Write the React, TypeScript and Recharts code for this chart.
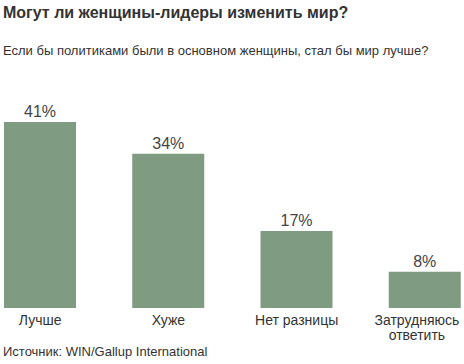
import React from 'react';
import { BarChart, Bar, XAxis, YAxis, LabelList } from 'recharts';

const categories = ['Лучше', 'Хуже', 'Нет разницы', 'Затрудняюсь\nответить'];
const shares = [41, 34, 17, 8];

const data = categories.map((name, i) => ({ name, value: shares[i] }));

const FONT = '"Liberation Sans", Arial, sans-serif';

// the two-line label sits a bit left of its bar in the original, so it stays inside the frame
const CategoryTick: React.FC<any> = ({ x, y, payload }) => {
  const lines = String(payload.value).split('\n');
  const cx = lines.length > 1 ? x - 8 : x;
  return (
    <text x={cx} y={y + 9} textAnchor="middle" fill="#333" fontSize={14} fontFamily={FONT}>
      {lines.map((line, i) => (
        <tspan key={i} x={cx} dy={i === 0 ? 0 : 14.5}>
          {line}
        </tspan>
      ))}
    </text>
  );
};

const App: React.FC = () => {
  return (
    <div style={{ position: 'fixed', left: 0, top: 0, width: 464, height: 364, overflow: 'hidden', background: '#fff', fontFamily: FONT }}>
      <div style={{ position: 'absolute', left: -24, top: 0, width: 513, height: 364 }}>
        <BarChart width={513} height={364} data={data} margin={{ top: 122, right: 0, bottom: 0, left: 0 }}>
          <YAxis hide domain={[0, 41]} />
          <XAxis dataKey="name" height={56} axisLine={false} tickLine={false} interval={0} tick={<CategoryTick />} />
          <Bar dataKey="value" fill="#7f9b81" barSize={72} isAnimationActive={false}>
            <LabelList dataKey="value" position="top" offset={5} formatter={(v: any) => `${v}%`} fill="#444" fontSize={16} fontFamily={FONT} />
          </Bar>
        </BarChart>
      </div>
      <div style={{ position: 'absolute', left: 3, top: 4, fontSize: 16, fontWeight: 'bold', color: '#333', whiteSpace: 'nowrap' }}>
        Могут ли женщины-лидеры изменить мир?
      </div>
      <div style={{ position: 'absolute', left: 3, top: 43, fontSize: 13, color: '#333', whiteSpace: 'nowrap' }}>
        Если бы политиками были в основном женщины, стал бы мир лучше?
      </div>
      <div style={{ position: 'absolute', left: 3, top: 344, fontSize: 13, color: '#333', whiteSpace: 'nowrap' }}>
        Источник: WIN/Gallup International
      </div>
    </div>
  );
};

export default App;
